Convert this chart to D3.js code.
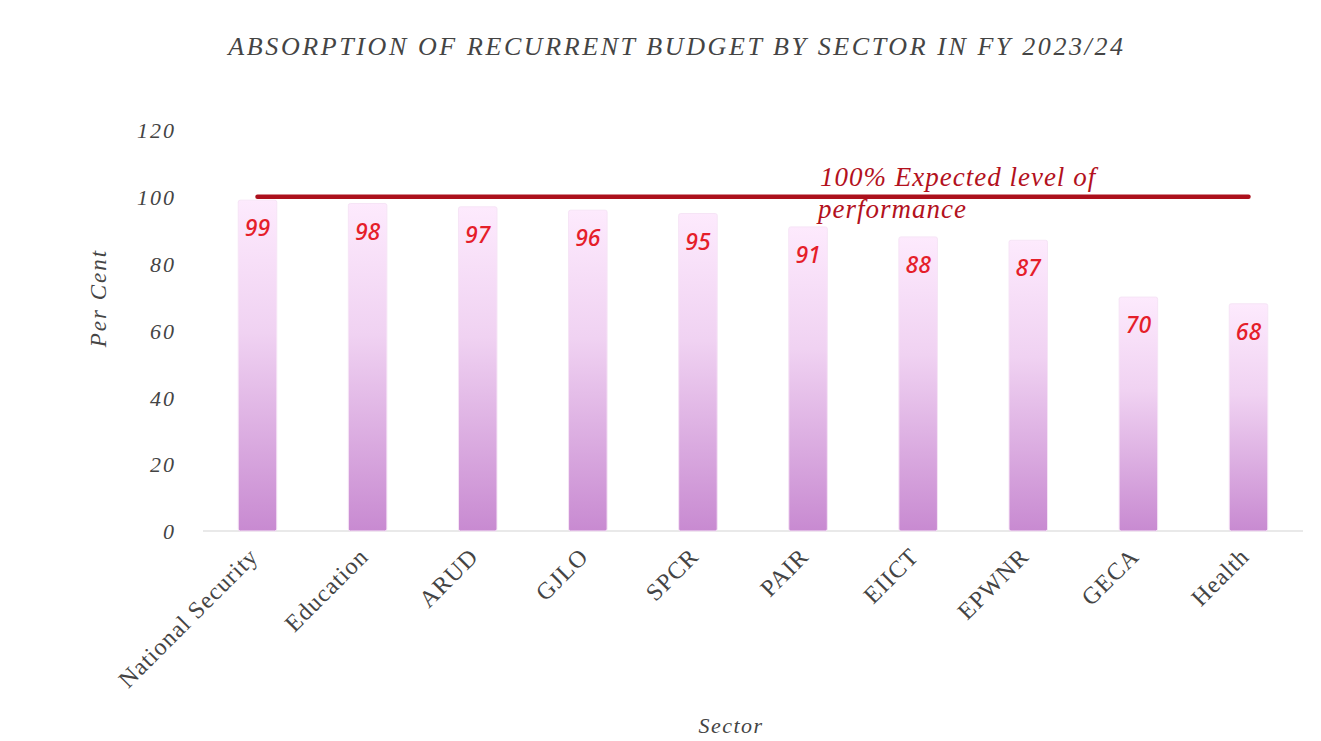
<!DOCTYPE html>
<meta charset='utf-8'>
<head>
    <title>Absorption of recurrent budget</title>
    <script src='https://cdn.jsdelivr.net/npm/d3@7/dist/d3.min.js'></script>
</head>

<style>
    body { margin: 0; background: white; }
    text { font-family: 'Liberation Serif', serif; fill: #444; }
    .tick line { display: none; }
    .domain { display: none; }
</style>

<svg></svg>

<script>
    var vWidth = 1321;
    var vHeight = 741;

    var sectors = ['National Security', 'Education', 'ARUD', 'GJLO', 'SPCR', 'PAIR', 'EIICT', 'EPWNR', 'GECA', 'Health'];
    var absorption = [99, 98, 97, 96, 95, 91, 88, 87, 70, 68];
    var yTicks = [0, 20, 40, 60, 80, 100, 120];
    var expected = 100;

    var svg = d3.select('svg').attr('width', vWidth).attr('height', vHeight);

    // gradient for bars
    var grad = svg.append('defs').append('linearGradient')
        .attr('id', 'barGrad').attr('x1', 0).attr('y1', 0).attr('x2', 0).attr('y2', 1);
    grad.append('stop').attr('offset', '0%').attr('stop-color', '#fdeafd');
    grad.append('stop').attr('offset', '40%').attr('stop-color', '#f0d2f2');
    grad.append('stop').attr('offset', '100%').attr('stop-color', '#c88ad1');

    var x = d3.scaleBand().domain(sectors).range([203, 1303]).paddingInner(0.65).paddingOuter(0.32);
    var y = d3.scaleLinear().domain([0, 120]).range([531, 130]);

    // title
    svg.append('text')
        .attr('x', 677).attr('y', 55)
        .attr('text-anchor', 'middle')
        .style('font-style', 'italic')
        .style('font-size', '26px')
        .style('letter-spacing', '2.6px')
        .text('ABSORPTION OF RECURRENT BUDGET BY SECTOR IN FY 2023/24');

    // y axis
    var yAxis = svg.append('g')
        .attr('transform', 'translate(176,0)')
        .call(d3.axisLeft(y).tickValues(yTicks).tickSize(0).tickPadding(0));
    yAxis.selectAll('text')
        .style('font-style', 'italic')
        .style('font-size', '22px')
        .style('letter-spacing', '2px')
        .style('fill', '#444')
        .attr('dy', '0.35em');

    // baseline
    svg.append('line')
        .attr('x1', 203).attr('x2', 1303)
        .attr('y1', y(0)).attr('y2', y(0))
        .style('stroke', '#e2e2e2').style('stroke-width', 1.5);

    // bars
    svg.selectAll('rect.bar').data(absorption).enter().append('rect')
        .attr('class', 'bar')
        .attr('x', function(d, i) { return x(sectors[i]); })
        .attr('width', x.bandwidth())
        .attr('y', function(d) { return y(d); })
        .attr('height', function(d) { return y(0) - y(d); })
        .attr('rx', 2)
        .style('fill', 'url(#barGrad)')
        .style('stroke', '#f6e4f6').style('stroke-width', 1);

    // value labels
    svg.selectAll('text.val').data(absorption).enter().append('text')
        .attr('class', 'val')
        .attr('x', function(d, i) { return x(sectors[i]) + x.bandwidth() / 2; })
        .attr('y', function(d) { return y(d) + 36; })
        .attr('text-anchor', 'middle')
        .style('font-family', "'Noto Sans', sans-serif")
        .style('font-style', 'italic')
        .style('font-weight', 500)
        .style('font-size', '23px')
        .style('fill', '#e51e2a')
        .text(function(d) { return d; });

    // expected level line
    var firstC = x(sectors[0]) + x.bandwidth() / 2;
    var lastC = x(sectors[sectors.length - 1]) + x.bandwidth() / 2;
    svg.append('line')
        .attr('x1', firstC).attr('x2', lastC)
        .attr('y1', y(expected)).attr('y2', y(expected))
        .style('stroke', '#ac101c').style('stroke-width', 4.5)
        .style('stroke-linecap', 'round');

    var note = svg.append('text')
        .attr('x', 820).attr('y', 186)
        .style('font-style', 'italic')
        .style('font-size', '27px')
        .style('letter-spacing', '1px')
        .style('fill', '#b3111d');
    note.append('tspan').attr('x', 820).text('100% Expected level of');
    note.append('tspan').attr('x', 818).attr('dy', 32).text('performance');

    // x labels
    svg.selectAll('text.xl').data(sectors).enter().append('text')
        .attr('class', 'xl')
        .attr('text-anchor', 'end')
        .attr('transform', function(d) {
            return 'translate(' + (x(d) + x.bandwidth() / 2 + 2) + ',558) rotate(-45)';
        })
        .style('font-size', '24px')
        .style('letter-spacing', '1px')
        .style('fill', '#444')
        .text(function(d) { return d; });

    // axis titles
    svg.append('text')
        .attr('transform', 'translate(106,298) rotate(-90)')
        .attr('text-anchor', 'middle')
        .style('font-style', 'italic')
        .style('font-size', '23px')
        .style('letter-spacing', '2px')
        .text('Per Cent');

    svg.append('text')
        .attr('x', 731).attr('y', 733)
        .attr('text-anchor', 'middle')
        .style('font-style', 'italic')
        .style('font-size', '22px')
        .style('letter-spacing', '1.5px')
        .text('Sector');
</script>
